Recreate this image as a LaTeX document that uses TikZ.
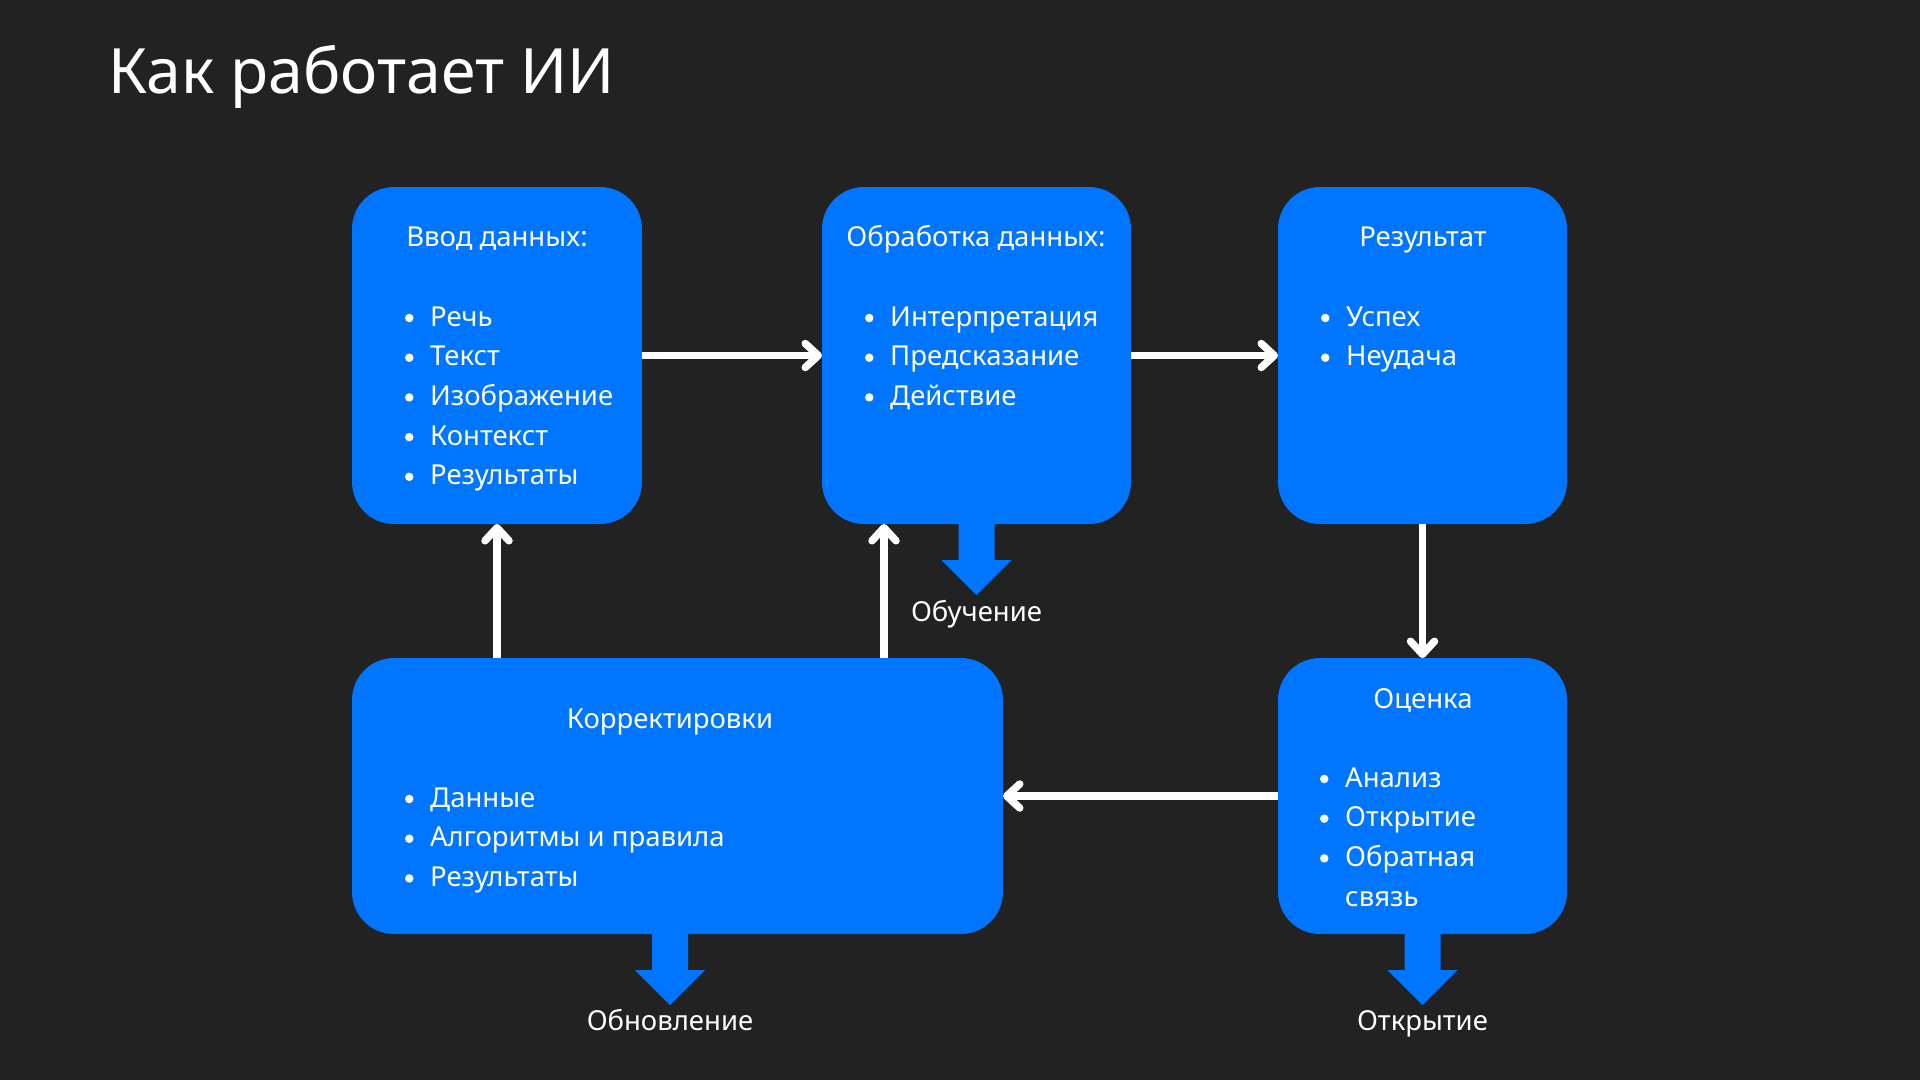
\documentclass[tikz,border=0pt]{standalone}
\usepackage{fontspec}
\setmainfont{Noto Sans}
\usetikzlibrary{arrows.meta,calc}
\definecolor{bg}{RGB}{34,34,34}
\definecolor{boxblue}{RGB}{0,117,255}
\newcommand\bul{\makebox[25pt][l]{}}
\begin{document}
\begin{tikzpicture}[x=1pt,y=-1pt,
  box/.style={fill=boxblue,rounded corners=42pt,inner sep=0pt,outer sep=0pt},
  txt/.style={text=white,inner sep=0pt,font=\fontsize{27.5}{39.7}\selectfont},
  lst/.style={txt,align=left,anchor=base west},
  arr/.style={draw=white,line width=7.5pt,-{Straight Barb[length=13pt,width=24pt,round]}},
  fat/.style={fill=boxblue}]
\fill[bg] (0,0) rectangle (1920,1080);
\useasboundingbox (0,0) rectangle (1920,1080);

\node[anchor=base west,text=white,inner sep=0pt,font=\fontsize{62.5}{70}\selectfont] (title) at (108,93) {Как работает ИИ};

% boxes
\node[box,minimum width=290pt,minimum height=337pt] (b1) at (497,355.5) {};
\node[box,minimum width=309pt,minimum height=337pt] (b2) at (976.5,355.5) {};
\node[box,minimum width=289pt,minimum height=337pt] (b3) at (1422.5,355.5) {};
\node[box,minimum width=651pt,minimum height=276pt] (b4) at (677.5,796) {};
\node[box,minimum width=289pt,minimum height=276pt] (b5) at (1422.5,796) {};

% box texts (list nodes anchored at the baseline of their last line)
\node[txt,anchor=base] (h1) at (497,246) {Ввод данных:};
\node[lst] (l1) at (405,484.8) {\bul Речь\\\bul Текст\\\bul Изображение\\\bul Контекст\\\bul Результаты};
\node[txt,anchor=base] (h2) at (976,246) {Обработка данных:};
\node[lst] (l2) at (865,405.4) {\bul Интерпретация\\\bul Предсказание\\\bul Действие};
\node[txt,anchor=base] (h3) at (1423,246) {Результат};
\node[lst] (l3) at (1321,365.7) {\bul Успех\\\bul Неудача};
\node[txt,anchor=base] (h4) at (670,728) {Корректировки};
\node[lst] (l4) at (405,886.4) {\bul Данные\\\bul Алгоритмы и правила\\\bul Результаты};
\node[txt,anchor=base] (h5) at (1423,708) {Оценка};
\node[lst] (l5) at (1320,906.1) {\bul Анализ\\\bul Открытие\\\bul Обратная\\\bul связь};

% bullet dots
\foreach \bx/\by/\bn in {405/326/5, 865/326/3, 1321/326/2, 405/807/3, 1320/787/3}{
  \foreach \k in {1,...,\bn}{
    \fill[white] ({\bx+4.25},{\by-8+(\k-1)*39.7}) circle (4.25);
  }
}

% connectors
\draw[arr] (b1) -- (b2);
\draw[arr] (b2) -- (b3);
\draw[arr] (b3) -- (b5);
\draw[arr] (b5) -- (b4);
\draw[arr] (b1.south |- b4.north) -- (b1.south);
\coordinate (c2) at ($(b2.south)+(-92.5,0)$);
\draw[arr] (c2 |- b4.north) -- (c2);

% fat arrows
\coordinate (f2) at (b2.south);
\coordinate (f4) at ($(b4.south)+(-7.5,0)$);
\coordinate (f5) at (b5.south);
\foreach \f in {f2,f4,f5}{
  \fill[fat] (\f) ++(-18,-6) -- ++(0,42) -- ++(-17,0) -- ++(35,35) -- ++(35,-35) -- ++(-17,0) -- ++(0,-42) -- cycle;
}
\node[txt,anchor=base] (o2) at ($(f2)+(0,97)$) {Обучение};
\node[txt,anchor=base] (o4) at ($(f4)+(0,96)$) {Обновление};
\node[txt,anchor=base] (o5) at ($(f5)+(0,96)$) {Открытие};
\end{tikzpicture}
\end{document}
